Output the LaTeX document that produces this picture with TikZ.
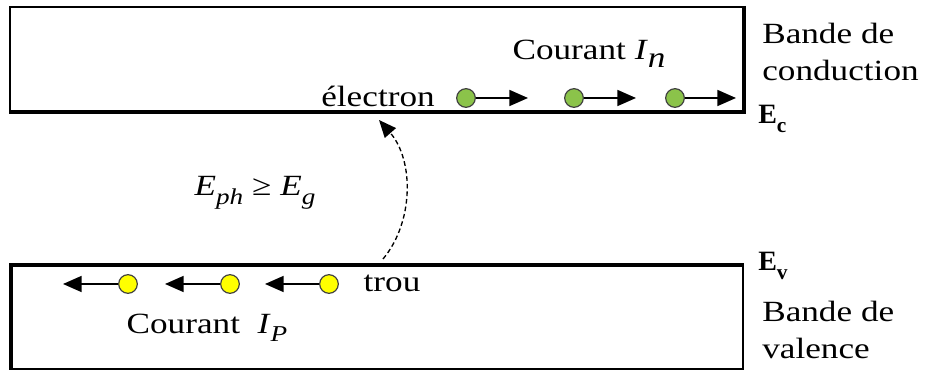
\documentclass[tikz,border=0pt]{standalone}
\usepackage{fontspec}
\setmainfont[FakeStretch=1.2]{Liberation Serif}
\newfontfamily\plainserif{Liberation Serif}
\usetikzlibrary{arrows.meta}
\definecolor{egreen}{RGB}{139,195,74}
\definecolor{hyellow}{RGB}{255,255,0}
\newcommand{\lvlE}[1]{{\plainserif\bfseries\fontsize{21}{24}\selectfont E\raisebox{-0.3em}{\fontsize{16}{18}\selectfont #1}}}
\begin{document}
\begin{tikzpicture}[x=0.75pt,y=-0.75pt,
  edge/.style={line width=1.5pt},
  thick edge/.style={line width=2.8pt},
  txt/.style={font=\fontsize{22}{28}\selectfont, inner sep=0pt},
  lvl/.style={inner sep=0pt, anchor=west},
  elec/.style={circle, draw=black!75, fill=egreen, minimum size=14pt, inner sep=0pt, line width=0.9pt},
  hole/.style={circle, draw=black!75, fill=hyellow, minimum size=14pt, inner sep=0pt, line width=0.9pt},
  mv/.style={line width=1.3pt, -{Triangle[length=14pt,width=12pt]}}
]
\useasboundingbox (0,0) rectangle (928,373);
% conduction band
\draw[edge] (10,112) -- (10,7) -- (744,7);
\draw[thick edge] (744,6) -- (744,112) -- (9,112);
% valence band
\draw[edge] (743,265) -- (743,369) -- (11,369);
\draw[thick edge] (11,370) -- (11,265) -- (744,265);
% electrons
\node[txt] (el) at (378,96) {électron};
\node[elec] (e1) at (466,98) {};
\node[elec] (e2) at (574,98) {};
\node[elec] (e3) at (675,98) {};
\coordinate (e1t) at (528,98);
\coordinate (e2t) at (636,98);
\coordinate (e3t) at (736,98);
\draw[mv] (e1) -- (e1t);
\draw[mv] (e2) -- (e2t);
\draw[mv] (e3) -- (e3t);
\node[txt] (cn) at (589,54) {Courant \textit{I}\raisebox{-0.28em}{\textit{n}}};
% holes
\node[hole] (h1) at (128,284) {};
\node[hole] (h2) at (230,284) {};
\node[hole] (h3) at (329,284) {};
\coordinate (h1t) at (63,284);
\coordinate (h2t) at (165,284);
\coordinate (h3t) at (265,284);
\draw[mv] (h1) -- (h1t);
\draw[mv] (h2) -- (h2t);
\draw[mv] (h3) -- (h3t);
\node[txt] (tr) at (392,283) {trou};
\node[txt] (cp) at (207,328) {Courant\ \ \textit{I}\raisebox{-0.28em}{\fontsize{17}{20}\selectfont\textit{P}}};
% photon excitation
\coordinate (ph0) at (383,259);
\coordinate (ph1) at (379,120);
\draw[line width=1pt, dash pattern=on 3.5pt off 2.2pt, -{Triangle[length=13pt,width=11pt]}] (ph0) .. controls (414,222) and (414,160) .. (ph1);
\node[txt] (eg) at (255,193) {\textit{E}\raisebox{-0.3em}{\fontsize{17}{20}\selectfont\textit{ph}}\ ≥\ \textit{E}\raisebox{-0.3em}{\fontsize{17}{20}\selectfont\textit{g}}};
% right labels
\node[txt, anchor=west, align=left] (bc) at (762,52) {Bande de\\conduction};
\node[lvl] (ec) at (758,119) {\lvlE{c}};
\node[lvl] (ev) at (758,266) {\lvlE{v}};
\node[txt, anchor=west, align=left] (bv) at (762,330) {Bande de\\valence};
\end{tikzpicture}
\end{document}
